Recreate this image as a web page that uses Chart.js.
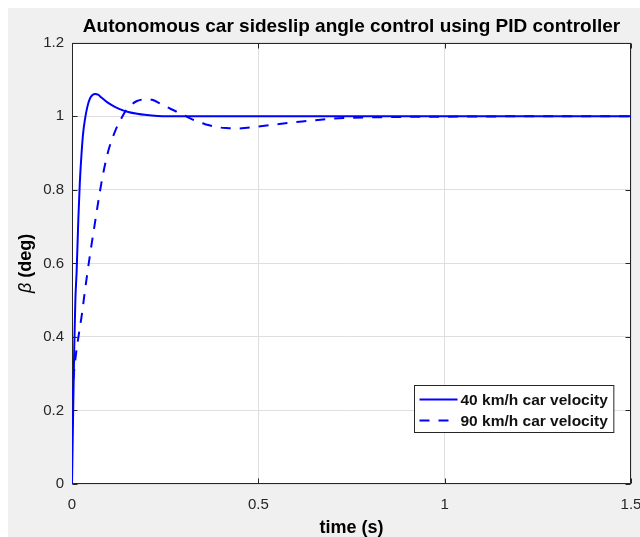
<!DOCTYPE html>
<html>
<head>
<meta charset="utf-8">
<script src="https://cdn.jsdelivr.net/npm/chart.js@4.4.1/dist/chart.umd.min.js"></script>
<style>
html, body { margin: 0; padding: 0; background: #fff; }
</style>
</head>
<body>
<canvas id="chart" width="640" height="537"></canvas>
<script>
// values
const timeFast = [0, 0.003, 0.006, 0.009, 0.0125, 0.017, 0.021, 0.026, 0.03, 0.035, 0.041, 0.048, 0.055, 0.062, 0.07, 0.079, 0.095, 0.115, 0.135, 0.151, 0.175, 0.195, 0.23, 0.3, 0.5, 1.0, 1.5];
const betaFast = [0, 0.19, 0.37, 0.5, 0.58, 0.72, 0.82, 0.905, 0.955, 0.993, 1.025, 1.048, 1.058, 1.061, 1.059, 1.051, 1.038, 1.026, 1.017, 1.012, 1.007, 1.004, 1.001, 1.0, 1.0, 1.0, 1.0];

const timeSlow = [0, 0.005, 0.011, 0.018, 0.027, 0.034, 0.04, 0.05, 0.06, 0.07, 0.08, 0.09, 0.1, 0.115, 0.13, 0.145, 0.16, 0.173, 0.19, 0.2, 0.215, 0.24, 0.265, 0.289, 0.31, 0.338, 0.36, 0.387, 0.415, 0.445, 0.47, 0.498, 0.556, 0.618, 0.69, 0.75, 0.85, 1.0, 1.2, 1.5];
const betaSlow = [0.233, 0.3, 0.356, 0.405, 0.465, 0.52, 0.565, 0.635, 0.7, 0.765, 0.825, 0.875, 0.915, 0.958, 0.99, 1.016, 1.032, 1.041, 1.046, 1.047, 1.045, 1.033, 1.02, 1.009, 0.998, 0.985, 0.978, 0.971, 0.968, 0.967, 0.969, 0.972, 0.979, 0.986, 0.993, 0.996, 0.998, 0.999, 1.0, 1.0];

const seriesLabels = ['40 km/h car velocity', '90 km/h car velocity'];
const xTickValues = [0, 0.5, 1, 1.5];
const xTickLabels = ['0', '0.5', '1', '1.5'];
const yTickValues = [0, 0.2, 0.4, 0.6, 0.8, 1, 1.2];
const yTickLabels = ['0', '0.2', '0.4', '0.6', '0.8', '1', '1.2'];

const FONT = "'Liberation Sans', Arial, Helvetica, sans-serif";
const AXIS_COLOR = '#262626';

function toPoints(xs, ys) {
    return xs.map((x, i) => ({ x: x, y: ys[i] }));
}

const framePlugin = {
    id: 'frame',
    beforeDraw(chart) {
        const { ctx, chartArea: a } = chart;
        ctx.save();
        ctx.fillStyle = '#fff';
        ctx.fillRect(0, 0, chart.width, chart.height);
        ctx.fillStyle = '#f0f0f0';
        ctx.fillRect(8, 8, chart.width - 8, chart.height - 8);
        ctx.fillStyle = '#fff';
        ctx.fillRect(a.left, a.top, a.right - a.left, a.bottom - a.top);
        ctx.restore();
    },
    beforeDatasetsDraw(chart) {
        const { ctx, chartArea: a, scales } = chart;
        const l = Math.round(a.left) + 0.5, r = Math.round(a.right) - 0.5;
        const t = Math.round(a.top) + 0.5, b = Math.round(a.bottom) - 0.5;
        ctx.save();
        ctx.strokeStyle = AXIS_COLOR;
        ctx.lineWidth = 1;
        ctx.strokeRect(l, t, r - l, b - t);
        ctx.beginPath();
        scales.x.ticks.forEach(tk => {
            const px = Math.round(scales.x.getPixelForValue(tk.value)) + 0.5;
            ctx.moveTo(px, b); ctx.lineTo(px, b - 5);
            ctx.moveTo(px, t); ctx.lineTo(px, t + 5);
        });
        scales.y.ticks.forEach(tk => {
            const py = Math.round(scales.y.getPixelForValue(tk.value)) + 0.5;
            ctx.moveTo(l, py); ctx.lineTo(l + 5, py);
            ctx.moveTo(r, py); ctx.lineTo(r - 5, py);
        });
        ctx.stroke();
        ctx.restore();
    },
    afterDatasetsDraw(chart) {
        // legend box, lower right inside the axes
        const { ctx, chartArea: a } = chart;
        ctx.save();
        ctx.font = 'bold 15.5px ' + FONT;
        const textW = Math.max(...chart.data.datasets.map(d => ctx.measureText(d.label).width));
        const sampleLen = 38;
        const w = 5 + sampleLen + 3 + textW + 6;
        const h = 47;
        const right = a.right - 18, bottom = a.bottom - 52;
        const left = Math.round(right - w) + 0.5, top = Math.round(bottom - h) + 0.5;
        ctx.fillStyle = '#fff';
        ctx.fillRect(left, top, w, h);
        ctx.strokeStyle = AXIS_COLOR;
        ctx.lineWidth = 1;
        ctx.strokeRect(left, top, w, h);
        chart.data.datasets.forEach((d, i) => {
            const yy = top + 14 + i * 21;
            ctx.beginPath();
            ctx.setLineDash(d.borderDash || []);
            ctx.strokeStyle = d.borderColor;
            ctx.lineWidth = d.borderWidth;
            ctx.moveTo(left + 5, yy);
            ctx.lineTo(left + 5 + sampleLen, yy);
            ctx.stroke();
            ctx.setLineDash([]);
            ctx.fillStyle = '#111';
            ctx.textBaseline = 'middle';
            ctx.textAlign = 'left';
            ctx.fillText(d.label, left + 5 + sampleLen + 3, yy + 1);
        });
        ctx.restore();
    },
    afterDraw(chart) {
        // y axis label with italic beta
        const { ctx, chartArea: a } = chart;
        ctx.save();
        ctx.translate(26, (a.top + a.bottom) / 2);
        ctx.rotate(-Math.PI / 2);
        ctx.textBaseline = 'middle';
        ctx.textAlign = 'left';
        ctx.fillStyle = '#000';
        const fBeta = 'italic 18px ' + FONT;
        const fRest = 'bold 18px ' + FONT;
        ctx.font = fBeta;
        const wb = ctx.measureText('\u03B2').width;
        ctx.font = fRest;
        const wr = ctx.measureText(' (deg)').width;
        const x0 = -(wb + wr) / 2;
        ctx.font = fBeta;
        ctx.fillText('\u03B2', x0, 0);
        ctx.font = fRest;
        ctx.fillText(' (deg)', x0 + wb, 0);
        ctx.restore();
    }
};

const ctx = document.getElementById('chart').getContext('2d');
new Chart(ctx, {
    type: 'line',
    data: {
        datasets: [{
            label: seriesLabels[0],
            data: toPoints(timeFast, betaFast),
            borderColor: '#0000ff',
            borderWidth: 2,
            pointRadius: 0,
            cubicInterpolationMode: 'monotone'
        }, {
            label: seriesLabels[1],
            data: toPoints(timeSlow, betaSlow),
            borderColor: '#0000ff',
            borderWidth: 2,
            borderDash: [10, 9],
            pointRadius: 0,
            cubicInterpolationMode: 'monotone'
        }]
    },
    options: {
        responsive: false,
        animation: false,
        devicePixelRatio: 1,
        layout: { padding: { left: 0, right: 9, top: 0, bottom: 0 } },
        plugins: {
            legend: { display: false },
            tooltip: { enabled: false },
            title: {
                display: true,
                fullSize: false,
                text: 'Autonomous car sideslip angle control using PID controller',
                color: '#000',
                font: { family: FONT, size: 19, weight: 'bold' },
                padding: { top: 15, bottom: 5 }
            }
        },
        scales: {
            x: {
                type: 'linear',
                min: 0,
                max: 1.5,
                afterBuildTicks: s => { s.ticks = xTickValues.map(v => ({ value: v })); },
                afterFit: s => { s.height = 53; s.paddingLeft = 0; s.paddingRight = 0; },
                grid: { color: '#dfdfdf', drawTicks: false },
                border: { display: false },
                ticks: {
                    padding: 12,
                    maxRotation: 0,
                    color: AXIS_COLOR,
                    font: { family: FONT, size: 15 },
                    callback: (v, i) => xTickLabels[i]
                },
                title: {
                    display: true,
                    text: 'time (s)',
                    color: '#000',
                    font: { family: FONT, size: 18, weight: 'bold' },
                    padding: { top: 0, bottom: -2 }
                }
            },
            y: {
                min: 0,
                max: 1.2,
                afterBuildTicks: s => { s.ticks = yTickValues.map(v => ({ value: v })); },
                afterFit: s => { s.width = 72; },
                grid: { color: '#dfdfdf', drawTicks: false },
                border: { display: false },
                ticks: {
                    padding: 8,
                    color: AXIS_COLOR,
                    font: { family: FONT, size: 15 },
                    callback: (v, i) => yTickLabels[i]
                }
            }
        }
    },
    plugins: [framePlugin]
});
</script>
</body>
</html>
